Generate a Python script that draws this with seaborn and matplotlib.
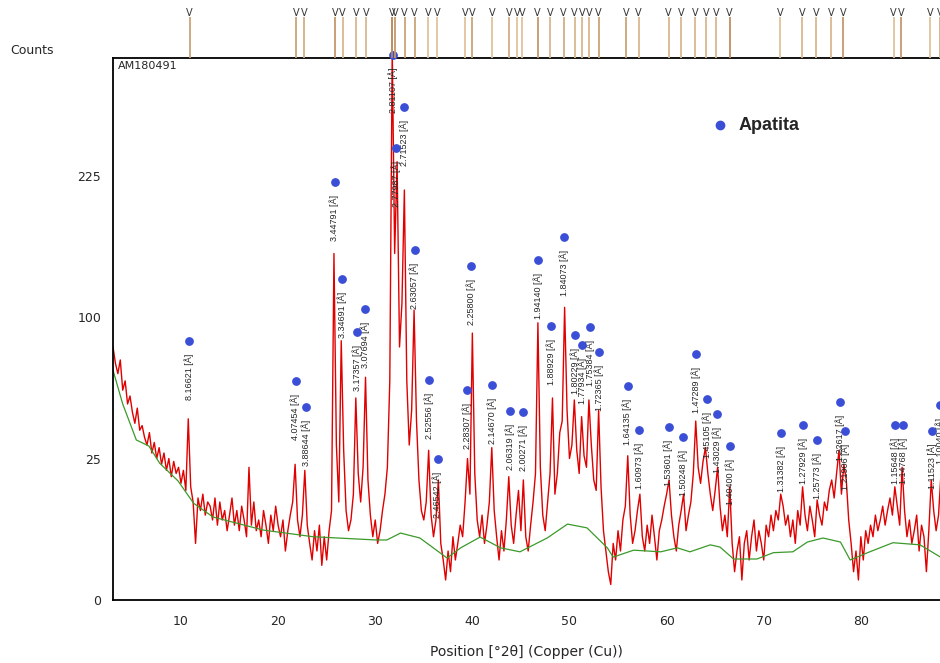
import numpy as np
import pandas as pd
import seaborn as sns
import matplotlib.pyplot as plt
from matplotlib.colors import LinearSegmentedColormap
from matplotlib.ticker import MultipleLocator

scan_start = 3.0
scan_step = 0.25
counts = [
    80, 70, 64, 72,  55, 60, 48, 52,  44, 39, 46, 36,  38, 33, 30, 35,
    27, 31, 25, 29,  23, 27, 21, 25,  19, 24, 20, 22,  17, 21, 15, 41,
    16, 12, 4, 13,  10, 14, 9, 12,  11, 8, 13, 7,  12, 8, 10, 6,
    9, 13, 7, 10,  6, 11, 8, 5,  22, 7, 12, 6,  8, 5, 10, 7,
    4, 9, 6, 11,  7, 5, 8, 3,  6, 9, 12, 23,  8, 5, 9, 21,
    7, 4, 2, 6,  3, 7, 1.5, 5,  2, 6, 10, 150,  30, 12, 84, 28,
    10, 6, 8, 14,  51, 20, 12, 22,  62, 18, 9, 5,  8, 4, 6, 10,
    14, 22, 60, 380,  150, 240, 80, 110,  210, 60, 30, 45,  105, 40, 18, 10,
    8, 12, 28, 9,  5, 8, 18, 4,  2, 0.5, 3, 1,  5, 2, 4, 7,
    5, 12, 25, 14,  89, 20, 8, 5,  9, 4, 7, 12,  29, 10, 5, 2,
    6, 3, 8, 19,  7, 4, 9, 15,  6, 18, 5, 3,  7, 12, 20, 96,
    22, 9, 6, 12,  20, 51, 14, 20,  35, 40, 107, 45,  25, 30, 50, 28,
    20, 42, 26, 22,  50, 30, 18, 15,  45, 16, 6, 3,  1, 0.3, 4, 2,
    6, 3, 8, 11,  26, 9, 4, 6,  10, 14, 5, 3,  7, 4, 9, 5,
    2, 6, 8, 11,  14, 18, 9, 5,  3, 7, 10, 14,  6, 9, 12, 20,
    40, 22, 17, 24,  29, 20, 14, 10,  15, 22, 11, 6,  9, 5, 16, 4,
    1, 3, 5, 0.5,  4, 6, 2, 5,  8, 3, 6, 4,  2, 7, 5, 9,
    6, 10, 8, 14,  11, 7, 9, 5,  8, 4, 10, 7,  16, 9, 6, 11,
    8, 5, 12.5, 9,  7, 12, 10, 15,  18, 13, 20, 28,  14, 23, 18, 8,
    4, 1, 3, 0.5,  5, 2, 6, 4,  7, 5, 9, 6,  8, 11, 7, 10,
    13, 9, 16, 11,  7, 22, 10, 5,  8, 4, 6, 9,  3, 7, 5, 1,
    6, 18, 10, 6,  9, 20, 8, 5,  7,
]

# fitted background (green line)
bg_pos = [3.0, 4.0, 5.4, 6.7, 7.8, 9.7, 11.3, 13.3, 18.5, 23.6, 30.1, 31.2, 32.6,
          34.6, 37.4, 38.8, 40.8, 42.9, 44.9, 47.7, 49.8, 51.8, 53.9, 54.5, 56.6,
          59.4, 61.1, 62.4, 64.5, 65.5, 66.9, 69.3, 71.0, 73.0, 74.5, 76.1, 77.9,
          78.9, 80.7, 83.3, 86.1, 88.2]
bg_counts = [66, 48, 32, 29.6, 23.4, 17.7, 11.7, 8.6, 6.1, 5.0, 4.5, 4.5, 5.6,
             4.8, 2.2, 3.4, 4.95, 3.4, 2.9, 4.8, 7.2, 6.5, 3.4, 2.3, 3.1,
             2.9, 3.4, 2.9, 3.8, 3.5, 2.1, 2.1, 2.8, 2.9, 4.2, 4.8, 4.2,
             2.0, 2.8, 4.1, 3.8, 2.3]

# identified apatite peaks: d spacing label, position and marker height
peak_d = ["8.16621", "4.07454", "3.88644", "3.44791", "3.34691", "3.17357", "3.07694",
          "2.81107", "2.77987", "2.71523", "2.63057", "2.52556", "2.46542", "2.28307",
          "2.25800", "2.14670", "2.06319", "2.00271", "1.94140", "1.88929", "1.84073",
          "1.80229", "1.77934", "1.75384", "1.72365", "1.64135", "1.60973", "1.53601",
          "1.50248", "1.47289", "1.45105", "1.43029", "1.40400", "1.31382", "1.27929",
          "1.25773", "1.22617", "1.21906", "1.15648", "1.14768", "1.11523", "1.10040"]
peak_pos = [10.825, 21.795, 22.863, 25.818, 26.612, 28.096, 28.996,
            31.807, 32.175, 32.962, 34.054, 35.518, 36.413, 39.437,
            39.894, 42.054, 43.848, 45.244, 46.754, 48.124, 49.480,
            50.606, 51.310, 52.110, 53.090, 55.980, 57.180, 60.200,
            61.690, 63.070, 64.130, 65.180, 66.550, 71.790, 74.040,
            75.530, 77.830, 78.370, 83.530, 84.320, 87.370, 88.150]
peak_dot = [83.8, 59.9, 46.5, 218, 128.7, 89.7, 105.7,
            371, 255, 303.5, 153, 60.4, 24.8, 55,
            139, 57.7, 44.6, 44.1, 144.3, 93.7, 164.5,
            87.7, 81.2, 93.0, 76.8, 57.2, 36.1, 37.4,
            33.2, 75.6, 50.4, 43.2, 29.6, 34.8, 38.2,
            32.0, 48.9, 35.7, 38.2, 38.2, 35.7, 47.5]

# reference pattern sticks (top strip)
stick_pos = [10.88, 21.86, 22.69, 25.88, 26.63, 28.04, 29.07, 31.72, 32.06, 33.02,
             34.05, 35.43, 36.35, 39.27, 39.96, 42.02, 43.80, 44.59, 45.11, 46.71,
             48.02, 49.39, 50.53, 51.29, 52.04, 53.00, 55.85, 57.12, 60.21, 61.51,
             62.95, 64.06, 65.12, 66.49, 71.71, 73.94, 75.42, 76.93, 78.17, 83.38,
             84.14, 87.16, 88.19]
stick_int = [0.6, 0.6, 0.5, 0.7, 0.4, 0.4, 0.4, 0.9, 0.7, 0.6,
             0.6, 0.3, 0.3, 0.3, 0.6, 0.3, 0.5, 0.3, 0.3, 0.7,
             0.4, 0.5, 0.4, 0.4, 0.4, 0.6, 0.6, 0.4, 0.4, 0.4,
             0.4, 0.4, 0.4, 0.8, 0.3, 0.4, 0.4, 0.4, 0.7, 0.3,
             0.7, 0.3, 0.5]

sns.set_style("white")
plt.rcParams['font.family'] = ['DejaVu Sans']

df = pd.DataFrame({"pos": scan_start + scan_step * np.arange(len(counts)),
                   "counts": counts})
bg = pd.DataFrame({"pos": bg_pos, "counts": bg_counts})

fig = plt.figure(figsize=(9.4, 6.63), dpi=100)
ax = fig.add_axes([113 / 940, 63 / 663, 827 / 940, 542 / 663])
top = fig.add_axes([113 / 940, 605 / 663, 827 / 940, 58 / 663], sharex=ax)

sns.lineplot(data=df, x="pos", y="counts", ax=ax, color="#e00000", lw=1.0,
             estimator=None, sort=False)
sns.lineplot(data=bg, x="pos", y="counts", ax=ax, color="#3a9a2a", lw=0.9,
             estimator=None, sort=False)
ax.scatter(peak_pos, peak_dot, s=28, color="#3b4fd6", zorder=5, clip_on=False)
for d, p, h in zip(peak_d, peak_pos, peak_dot):
    ax.annotate(d + " [Å]", xy=(p, h), xytext=(0, -9), textcoords="offset points",
                rotation=90, ha="center", va="top", fontsize=6.5,
                family="Liberation Sans", annotation_clip=False)

ax.set_yscale("function", functions=(lambda v: np.sqrt(np.clip(v, 0, None)),
                                     lambda v: np.square(v)))
ax.set_ylim(0, 367)
ax.set_xlim(3.0, 88.15)
ax.set_yticks([0, 25, 100, 225])
ax.set_xticks(range(10, 90, 10))
ax.xaxis.set_minor_locator(MultipleLocator(1))
ax.tick_params(axis="x", which="major", direction="out", length=9, width=1,
               labelsize=9, pad=2)
ax.tick_params(axis="x", which="minor", direction="out", length=4, width=0.8)
ax.tick_params(axis="y", direction="out", length=5, width=1, labelsize=9)
for s in ["left", "bottom", "top"]:
    ax.spines[s].set_color("black")
    ax.spines[s].set_linewidth(1.3)
ax.spines["right"].set_visible(False)
ax.set_xlabel("Position [°2θ] (Copper (Cu))", fontsize=10, labelpad=12)
ax.set_ylabel("")

ax.text(0.006, 0.994, "AM180491", transform=ax.transAxes, ha="left", va="top",
        fontsize=8)
ax.plot([0.734], [0.876], "o", ms=6, color="#3b4fd6", transform=ax.transAxes)
ax.text(0.756, 0.876, "Apatita", transform=ax.transAxes, ha="left", va="center",
        fontsize=13, fontweight="bold", family="Liberation Sans")
fig.text(10 / 940, 1 - 50 / 663, "Counts", ha="left", va="center", fontsize=9)

# reference pattern strip
cmap = LinearSegmentedColormap.from_list("stick", ["#f5e2c0", "#b07a48"])
top.vlines(stick_pos, 0, 41, colors=[cmap(v) for v in stick_int], lw=1.3)
for p in stick_pos:
    top.text(p, 40, "V", ha="center", va="bottom", fontsize=7, color="#333333")
top.set_ylim(0, 58)
top.axis("off")

fig.savefig("out.png", dpi=100)
